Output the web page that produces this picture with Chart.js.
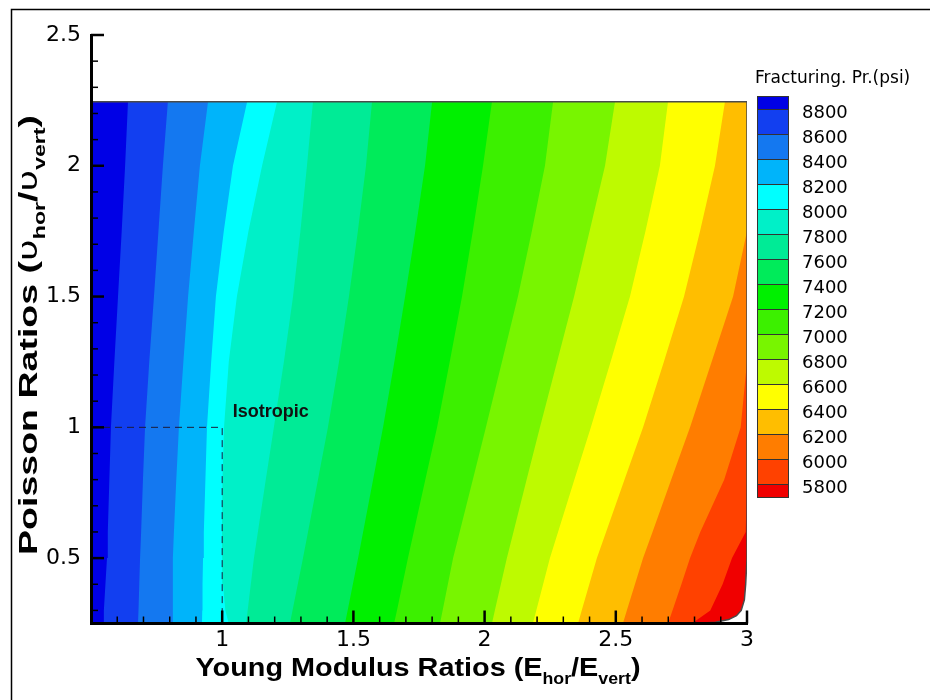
<!DOCTYPE html>
<html>
<head>
<meta charset="utf-8">
<script src="https://cdn.jsdelivr.net/npm/chart.js@4.4.1/dist/chart.umd.min.js"></script>
<style>
  body { margin: 0; background: #fff; }
</style>
</head>
<body>
<canvas id="myChart" width="930" height="700"></canvas>
<script>
// contour levels of the fracturing pressure (psi), high to low
const levels = [8800, 8600, 8400, 8200, 8000, 7800, 7600, 7400, 7200, 7000, 6800, 6600, 6400, 6200, 6000, 5800];
// band colours: >8800, 8600-8800, ... , 5800-6000, <5800
const bandColors = ['#0000e6', '#123ff0', '#1478f0', '#00b4fa', '#00ffff', '#00f0c8', '#00eb96', '#00eb5a',
  '#00f000', '#3cf000', '#78f500', '#befa00', '#ffff00', '#ffbe00', '#ff7d00', '#ff4100', '#f00000'];

// Poisson ratio rows where the contour lines were read
const poissonY = [0.25, 0.3, 0.4, 0.5, 0.6, 0.8, 1.0, 1.25, 1.5, 1.75, 2.0, 2.245];
// Young modulus ratio of each contour line along those rows
const line8800 = [0.546, 0.549, 0.555, 0.561, 0.564, 0.570, 0.576, 0.589, 0.603, 0.617, 0.630, 0.641];
const line8600 = [0.679, 0.681, 0.684, 0.687, 0.691, 0.698, 0.706, 0.722, 0.740, 0.757, 0.774, 0.793];
const line8400 = [0.812, 0.812, 0.812, 0.812, 0.816, 0.825, 0.835, 0.852, 0.870, 0.892, 0.915, 0.946];
const line8200 = [0.923, 0.924, 0.925, 0.927, 0.930, 0.936, 0.942, 0.958, 0.976, 1.006, 1.041, 1.095];
const line8000 = [1.025, 1.012, 1.003, 1.000, 0.999, 1.001, 1.007, 1.025, 1.056, 1.100, 1.152, 1.209];
const line7800 = [1.091, 1.097, 1.109, 1.121, 1.136, 1.166, 1.197, 1.235, 1.270, 1.298, 1.323, 1.346];
const line7600 = [1.258, 1.268, 1.288, 1.308, 1.327, 1.365, 1.403, 1.445, 1.483, 1.517, 1.548, 1.571];
const line7400 = [1.468, 1.478, 1.498, 1.518, 1.537, 1.575, 1.613, 1.656, 1.697, 1.736, 1.773, 1.800];
const line7200 = [1.655, 1.666, 1.687, 1.708, 1.730, 1.774, 1.819, 1.867, 1.914, 1.955, 1.994, 2.028];
const line7000 = [1.830, 1.840, 1.860, 1.880, 1.905, 1.955, 2.005, 2.066, 2.127, 2.180, 2.230, 2.261];
const line6800 = [2.028, 2.039, 2.062, 2.085, 2.110, 2.160, 2.211, 2.276, 2.341, 2.400, 2.459, 2.497];
const line6600 = [2.184, 2.197, 2.223, 2.249, 2.280, 2.342, 2.405, 2.480, 2.554, 2.613, 2.668, 2.699];
const line6400 = [2.356, 2.370, 2.399, 2.428, 2.463, 2.533, 2.604, 2.683, 2.760, 2.821, 2.878, 2.916];
const line6200 = [2.527, 2.542, 2.573, 2.604, 2.640, 2.711, 2.783, 2.865, 2.947, 3.0, 3.0, 3.0];
const line6000 = [2.699, 2.716, 2.750, 2.783, 2.822, 2.913, 2.976, 3.0, 3.0, 3.0, 3.0, 3.0];
const line5800 = [2.790, 2.860, 2.907, 2.943, 2.995, 3.0, 3.0, 3.0, 3.0, 3.0, 3.0, 3.0];

// right edge of the computed domain (rounded bottom corner)
const edgeY = [0.25, 0.255, 0.265, 0.28, 0.30, 0.34, 0.40, 0.50, 2.245];
const edgeX = [2.80, 2.88, 2.93, 2.96, 2.978, 2.99, 2.995, 3.0, 3.0];

// isotropic case
const isoPoint = {x: 1, y: 1};

const xTicks = [1, 1.5, 2, 2.5, 3];
const yTicks = [0.5, 1, 1.5, 2, 2.5];

const contourX = [line8800, line8600, line8400, line8200, line8000, line7800, line7600, line7400,
  line7200, line7000, line6800, line6600, line6400, line6200, line6000, line5800];

// each contour line is filled leftwards with the colour of the band on its left;
// dataset 0 is painted last, so the bands stack up correctly
const datasets = contourX.map((xs, i) => ({
  label: String(levels[i]),
  data: poissonY.map((y, j) => ({x: xs[j], y: y})),
  backgroundColor: bandColors[i],
  borderColor: 'transparent',
  borderWidth: 0,
  fill: {value: 0.5}
}));
datasets.push({
  label: 'edge',
  data: edgeY.map((y, j) => ({x: edgeX[j], y: y})),
  backgroundColor: bandColors[16],
  borderColor: 'transparent',
  borderWidth: 0,
  fill: {value: 0.5}
});
// outline of the domain
const outline = [{x: 0.5, y: 2.245}];
for (let j = edgeY.length - 1; j >= 0; j--) outline.push({x: edgeX[j], y: edgeY[j]});
datasets.push({
  label: 'outline',
  data: outline,
  borderColor: '#4a4a4a',
  borderWidth: 1.5,
  fill: false,
  order: -1
});
datasets.push({
  label: 'isotropic',
  data: [{x: 0.5, y: isoPoint.y}, {x: isoPoint.x, y: isoPoint.y}, {x: isoPoint.x, y: 0.25}],
  borderColor: '#1c1c3a',
  borderWidth: 1,
  borderDash: [7, 5],
  fill: false,
  order: -1
});

function drawRich(ctx, parts, width) {
  let total = 0;
  parts.forEach(p => { ctx.font = p.font; p.w = ctx.measureText(p.text).width; total += p.w; });
  if (width) ctx.scale(width / total, 1);
  let cx = -total / 2;
  parts.forEach(p => {
    ctx.font = p.font;
    ctx.fillText(p.text, cx, p.dy || 0);
    cx += p.w;
  });
}

const B = 'bold 26px "Liberation Sans", Arial';
const S = 'bold 16px "Liberation Sans", Arial';

const decorPlugin = {
  id: 'decor',
  afterDatasetsDraw(chart) {
    const {ctx, chartArea, scales: {x, y}} = chart;
    ctx.save();
    ctx.strokeStyle = '#000';
    // inward ticks, minor every 0.1
    for (let v = Math.ceil(x.min * 10 + 1e-6); v <= Math.round(x.max * 10); v++) {
      const val = v / 10;
      const major = xTicks.includes(val);
      const px = x.getPixelForValue(val);
      ctx.lineWidth = major ? 2.5 : 1.5;
      ctx.beginPath();
      ctx.moveTo(px, chartArea.bottom);
      ctx.lineTo(px, chartArea.bottom - (major ? 13 : 7));
      ctx.stroke();
    }
    for (let v = Math.ceil(y.min * 10 - 1e-6); v <= Math.round(y.max * 10); v++) {
      const val = v / 10;
      const major = yTicks.includes(val);
      const py = y.getPixelForValue(val);
      ctx.lineWidth = major ? 2.5 : 1.5;
      ctx.beginPath();
      ctx.moveTo(chartArea.left, py);
      ctx.lineTo(chartArea.left + (major ? 13 : 7), py);
      ctx.stroke();
    }
    // Isotropic label
    ctx.fillStyle = '#111';
    ctx.font = 'bold 18px "Liberation Sans", Arial';
    ctx.textBaseline = 'middle';
    ctx.textAlign = 'left';
    ctx.fillText('Isotropic', x.getPixelForValue(isoPoint.x + 0.04), y.getPixelForValue(isoPoint.y + 0.06));
    ctx.restore();
  },
  afterDraw(chart) {
    const {ctx, chartArea} = chart;
    ctx.save();
    ctx.fillStyle = '#000';
    ctx.textBaseline = 'alphabetic';
    ctx.textAlign = 'left';

    // x axis title
    ctx.save();
    ctx.translate((chartArea.left + chartArea.right) / 2 - 1, 676);
    drawRich(ctx, [
      {text: 'Young Modulus Ratios (E', font: B},
      {text: 'hor', font: S, dy: 8},
      {text: '/E', font: B},
      {text: 'vert', font: S, dy: 8},
      {text: ')', font: B}
    ], 445);
    ctx.restore();

    // y axis title
    ctx.save();
    ctx.translate(37, 335);
    ctx.rotate(-Math.PI / 2);
    drawRich(ctx, [
      {text: 'Poisson Ratios (', font: B},
      {text: 'υ', font: '26px "DejaVu Sans"'},
      {text: 'hor', font: S, dy: 8},
      {text: '/', font: B},
      {text: 'υ', font: '26px "DejaVu Sans"'},
      {text: 'vert', font: S, dy: 8},
      {text: ')', font: B}
    ], 440);
    ctx.restore();

    // colour bar legend
    const left = 757, width = 32, top = 96, endH = 13, step = 25;
    ctx.font = '17px "DejaVu Sans"';
    ctx.textBaseline = 'middle';
    ctx.fillText('Fracturing. Pr.(psi)', 755, 79);
    bandColors.forEach((c, i) => {
      const y0 = i === 0 ? top : top + endH + (i - 1) * step;
      const h = (i === 0 || i === bandColors.length - 1) ? endH : step;
      ctx.fillStyle = c;
      ctx.fillRect(left, y0, width, h);
      ctx.strokeStyle = '#333';
      ctx.lineWidth = 1;
      ctx.strokeRect(left + 0.5, y0 + 0.5, width - 1, h);
    });
    ctx.fillStyle = '#000';
    ctx.font = '18px "DejaVu Sans"';
    levels.forEach((lv, i) => {
      ctx.fillText(String(lv), 802, top + endH + i * step + 4);
    });

    // outer frame
    ctx.strokeStyle = '#000';
    ctx.lineWidth = 1.5;
    ctx.strokeRect(11.5, 9.5, 940, 720);
    ctx.restore();
  }
};

const ctx = document.getElementById('myChart').getContext('2d');
const myChart = new Chart(ctx, {
  type: 'line',
  data: {datasets: datasets},
  options: {
    indexAxis: 'y',
    responsive: false,
    animation: false,
    events: [],
    devicePixelRatio: 1,
    layout: {padding: {left: 0, top: 35, right: 183, bottom: 0}},
    elements: {point: {radius: 0, hoverRadius: 0}, line: {tension: 0}},
    plugins: {legend: {display: false}, tooltip: {enabled: false}},
    scales: {
      x: {
        type: 'linear', position: 'bottom', min: 0.5, max: 3,
        grid: {display: false, drawTicks: false},
        border: {display: true, color: '#000', width: 3, z: 1},
        ticks: {color: '#000', padding: 4, font: {family: 'DejaVu Sans', size: 22}, callback: v => String(v)},
        afterBuildTicks: s => { s.ticks = xTicks.map(v => ({value: v})); },
        afterFit: s => { s.height = 76.5; }
      },
      y: {
        type: 'linear', position: 'left', min: 0.25, max: 2.5,
        grid: {display: false, drawTicks: false},
        border: {display: true, color: '#000', width: 3, z: 1},
        ticks: {color: '#000', padding: 10, font: {family: 'DejaVu Sans', size: 22}, callback: v => String(v)},
        afterBuildTicks: s => { s.ticks = yTicks.map(v => ({value: v})); },
        afterFit: s => { s.width = 91; }
      }
    }
  },
  plugins: [decorPlugin]
});
</script>
</body>
</html>
